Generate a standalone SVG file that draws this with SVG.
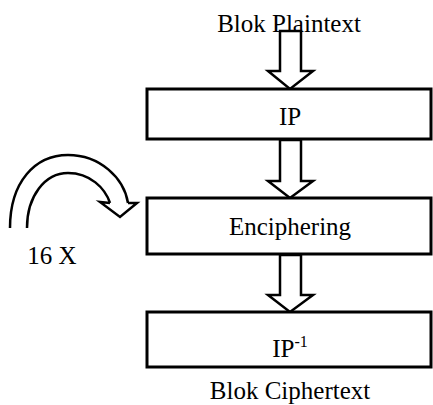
<svg xmlns="http://www.w3.org/2000/svg" width="433" height="405" viewBox="0 0 433 405">
<style>
.box{fill:#fff;stroke:#000;stroke-width:3}
.arr{fill:#fff;stroke:#000;stroke-width:2.5;stroke-linejoin:miter}
.t{font-family:"Liberation Serif","Times New Roman",serif;font-size:25px;fill:#000;text-anchor:middle}
.curve{fill:none;stroke:#000;stroke-width:2.5}
</style>
<rect width="433" height="405" fill="#fff"/>
<text class="t" x="289" y="32">Blok Plaintext</text>
<g id="connectors">
<path class="arr" d="M280,31 L301,31 L301,71 L313,71 L290,89 L268,71 L280,71 Z"/>
<path class="arr" d="M280,140 L301,140 L301,181 L313,181 L290,198 L268,181 L280,181 Z"/>
<path class="arr" d="M280,255 L301,255 L301,295 L313,295 L290,312 L268,295 L280,295 Z"/>
<g id="loop">
<path class="curve" d="M10,228 C10,182 35,155 68,155 C100,155 124,178 128,203"/>
<path class="curve" d="M27,228 C27,196 45,173 68,173 C90,173 105,188 110,203"/>
<path class="curve" d="M110,203 L100,202 L120,217 L137,203 L128,203"/>
</g>
</g>
<g id="ip">
<rect class="box" x="147" y="89" width="284" height="50"/>
<text class="t" x="290" y="125">IP</text>
</g>
<g id="enciphering">
<rect class="box" x="147" y="198" width="284" height="56"/>
<text class="t" x="290" y="235">Enciphering</text>
</g>
<g id="ipinv">
<rect class="box" x="147" y="312" width="284" height="55"/>
<text class="t" x="290" y="357">IP<tspan font-size="16" dy="-10">-1</tspan></text>
</g>
<text class="t" x="290" y="399">Blok Ciphertext</text>
<text class="t" x="52" y="264">16 X</text>
</svg>
